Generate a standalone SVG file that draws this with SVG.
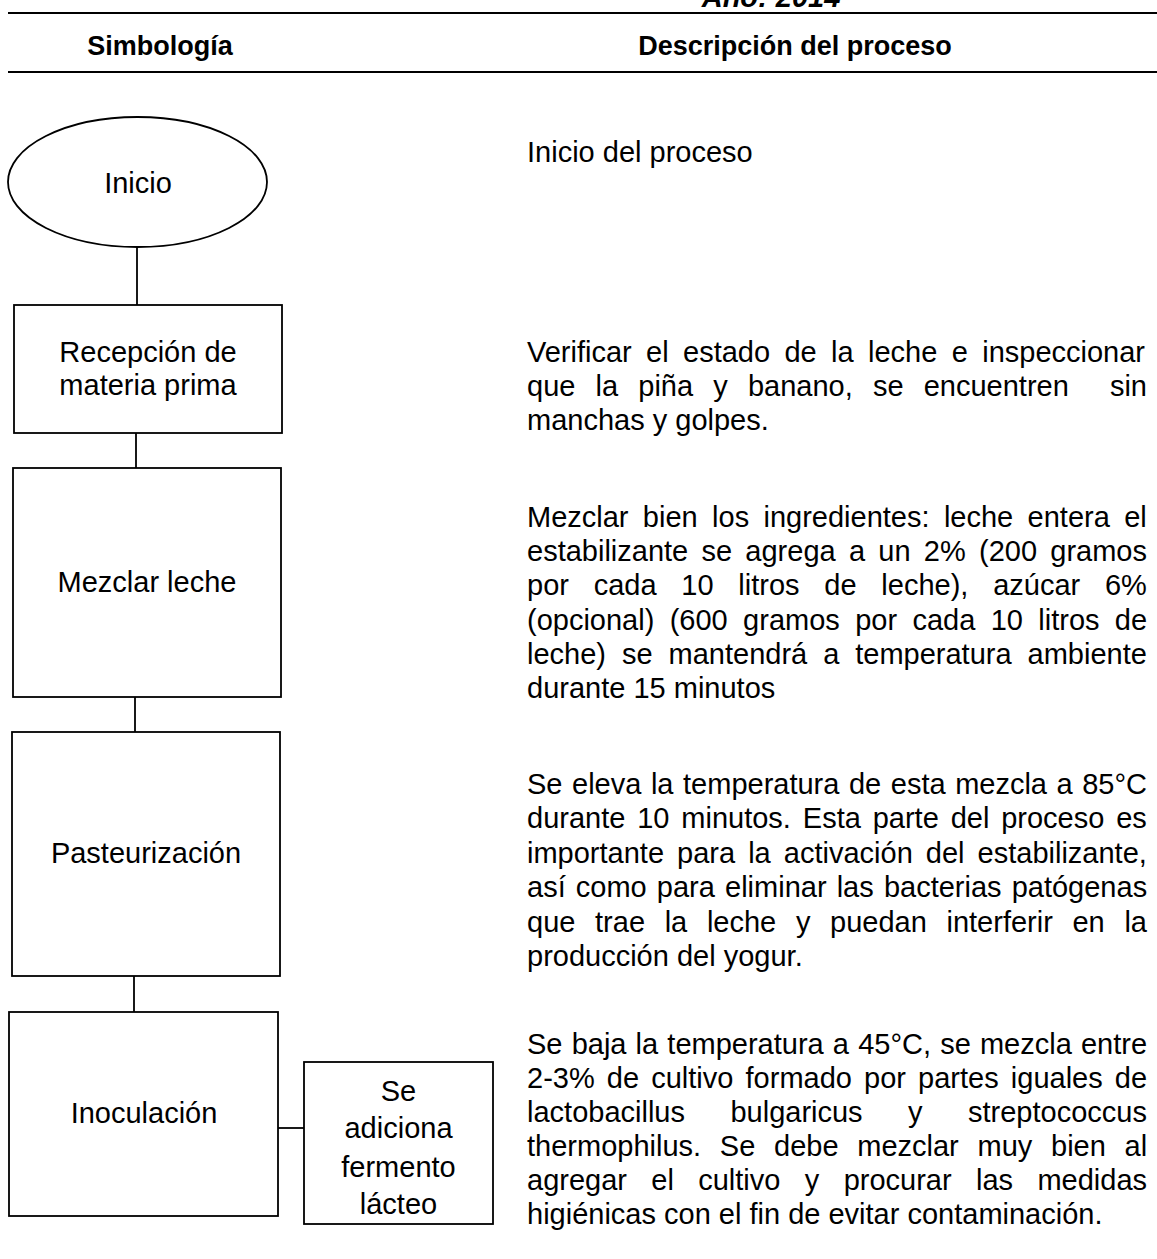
<svg xmlns="http://www.w3.org/2000/svg" width="1157" height="1259" viewBox="0 0 1157 1259">
<style>
.t{font-family:"Liberation Sans",Arial,Helvetica,sans-serif;font-size:29px;fill:#000}
.b{font-weight:bold}
.h{font-size:27px}
.m{text-anchor:middle}
.n{fill:#fff;stroke:#000;stroke-width:1.8}
.c{stroke:#000;stroke-width:1.8;fill:none}
.rule{stroke:#000;stroke-width:2.2}
</style>
<rect x="0" y="0" width="1157" height="1259" fill="#fff"/>
<g id="header">
<text class="t b m" x="771" y="7" font-size="30" font-style="italic">Año: 2014</text>
<line class="rule" x1="8" y1="13" x2="1157" y2="13"/>
<text class="t b m h" x="160" y="55">Simbología</text>
<text class="t b m h" x="795" y="55">Descripción del proceso</text>
<line class="rule" x1="8" y1="72" x2="1157" y2="72"/>
</g>
<g id="connectors">
<line class="c" x1="137" y1="247" x2="137" y2="305"/>
<line class="c" x1="136" y1="433" x2="136" y2="468"/>
<line class="c" x1="135" y1="697" x2="135" y2="732"/>
<line class="c" x1="134" y1="976" x2="134" y2="1012"/>
<line class="c" x1="278" y1="1128" x2="304" y2="1128"/>
</g>
<g id="node-inicio">
<ellipse class="n" cx="137.5" cy="182" rx="129.5" ry="65"/>
<text class="t m" x="138" y="193" font-size="32">Inicio</text>
</g>
<g id="node-recepcion">
<rect class="n" x="14" y="305" width="268" height="128"/>
<text class="t m" x="148" y="362">Recepción de</text>
<text class="t m" x="148" y="395">materia prima</text>
</g>
<g id="node-mezclar">
<rect class="n" x="13" y="468" width="268" height="229"/>
<text class="t m" x="147" y="592">Mezclar leche</text>
</g>
<g id="node-pasteurizacion">
<rect class="n" x="12" y="732" width="268" height="244"/>
<text class="t m" x="146" y="863">Pasteurización</text>
</g>
<g id="node-inoculacion">
<rect class="n" x="9" y="1012" width="269" height="204"/>
<text class="t m" x="144" y="1123">Inoculación</text>
</g>
<g id="node-fermento">
<rect class="n" x="304" y="1062" width="189" height="162"/>
<text class="t m" x="398.5" y="1101" font-size="32">Se</text>
<text class="t m" x="398.5" y="1138" font-size="32">adiciona</text>
<text class="t m" x="398.5" y="1177" font-size="32">fermento</text>
<text class="t m" x="398.5" y="1214" font-size="32">lácteo</text>
</g>
<g id="descriptions">
<text class="t" x="527" y="162">Inicio del proceso</text>

<text class="t" x="527" y="362" word-spacing="6.3">Verificar el estado de la leche e inspeccionar</text>
<text class="t" x="527" y="396" word-spacing="12.1">que la piña y banano, se encuentren</text>
<text class="t" x="1147" y="396" text-anchor="end">sin</text>
<text class="t" x="527" y="430">manchas y golpes.</text>

<text class="t" x="527" y="527" word-spacing="6.3">Mezclar bien los ingredientes: leche entera el</text>
<text class="t" x="527" y="561.2" word-spacing="5.2">estabilizante se agrega a un 2% (200 gramos</text>
<text class="t" x="527" y="595.4" word-spacing="16.7">por cada 10 litros de leche), azúcar 6%</text>
<text class="t" x="527" y="629.6" word-spacing="7.3">(opcional) (600 gramos por cada 10 litros de</text>
<text class="t" x="527" y="663.8" word-spacing="7.9">leche) se mantendrá a temperatura ambiente</text>
<text class="t" x="527" y="698">durante 15 minutos</text>

<text class="t" x="527" y="794" word-spacing="1.5">Se eleva la temperatura de esta mezcla a 85°C</text>
<text class="t" x="527" y="828.4" word-spacing="3.8">durante 10 minutos. Esta parte del proceso es</text>
<text class="t" x="527" y="862.8" word-spacing="5.0">importante para la activación del estabilizante,</text>
<text class="t" x="527" y="897.2" word-spacing="2.07">así como para eliminar las bacterias patógenas</text>
<text class="t" x="527" y="931.6" word-spacing="11.6">que trae la leche y puedan interferir en la</text>
<text class="t" x="527" y="966">producción del yogur.</text>

<text class="t" x="527" y="1054" word-spacing="1.1">Se baja la temperatura a 45°C, se mezcla entre</text>
<text class="t" x="527" y="1088" word-spacing="4.07">2-3% de cultivo formado por partes iguales de</text>
<text class="t" x="527" y="1122" word-spacing="37.4">lactobacillus bulgaricus y streptococcus</text>
<text class="t" x="527" y="1156" word-spacing="10.67">thermophilus. Se debe mezclar muy bien al</text>
<text class="t" x="527" y="1190" word-spacing="16.3">agregar el cultivo y procurar las medidas</text>
<text class="t" x="527" y="1224">higiénicas con el fin de evitar contaminación.</text>
</g>
</svg>
